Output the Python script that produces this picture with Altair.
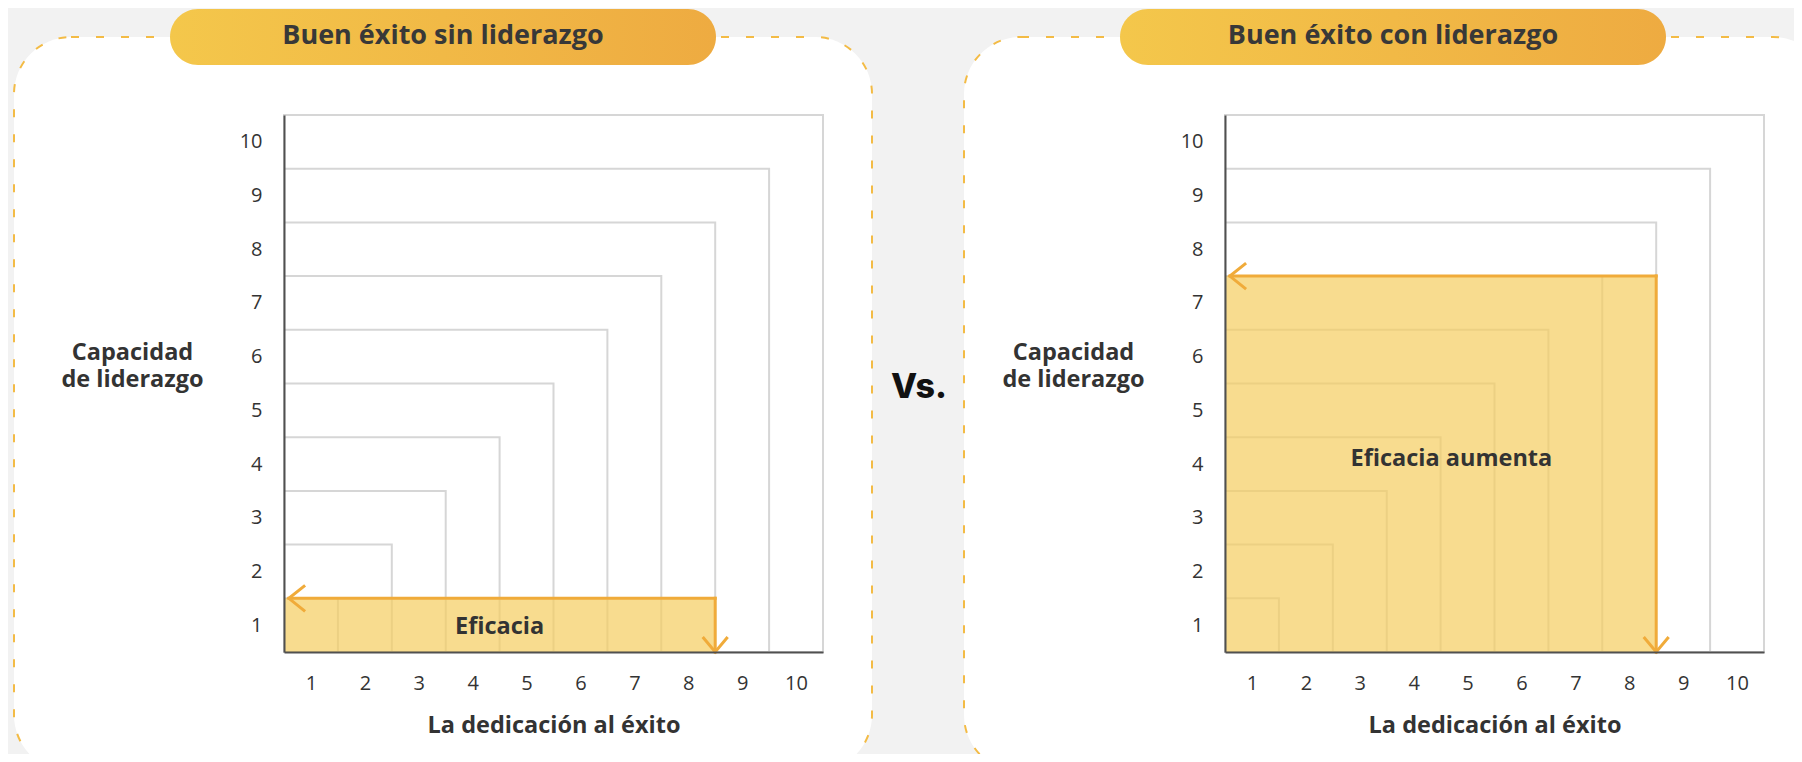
import json
import altair as alt
import pandas as pd

# ---------------- data ----------------
tick_labels = ["1", "2", "3", "4", "5", "6", "7", "8", "9", "10"]
tick_positions = [0.5, 1.5, 2.5, 3.5, 4.5, 5.5, 6.5, 7.5, 8.5, 9.5]
square_sizes = [1, 2, 3, 4, 5, 6, 7, 8, 9, 10]
panel_titles = ["Buen éxito sin liderazgo", "Buen éxito con liderazgo"]
effect_x = [8, 8]          # dedicación al éxito reached
effect_y = [1, 7]          # capacidad de liderazgo reached
effect_labels = ["Eficacia", "Eficacia aumenta"]
effect_label_x = [4.0, 4.2]
effect_label_y = [0.47, 3.6]
x_title = "La dedicación al éxito"
y_title = ["Capacidad", "de liderazgo"]
vs_text = "Vs."

# ---------------- style / layout ----------------
FONT = "Open Sans"
ORANGE = "#f0ab3a"
FILL = "#f5cd5f"
GRID = "#d6d6d6"
TEXT = "#333333"
W, H = 1786, 746
PLOT_TOP, PLOT_BOTTOM = 107, 644
PANEL_X = [[276, 815], [1217, 1756]]
CARD_X = [[6, 864], [956, 1822]]
PILL_X = [[162, 708], [1112, 1658]]

label_expr = json.dumps(tick_labels) + "[floor(datum.value)]"
one = pd.DataFrame({"a": [0]})


def deco_rect(x, x2, y, y2, **kw):
    return alt.Chart(one).mark_rect(**kw).encode(
        x=alt.value(x), x2=alt.value(x2), y=alt.value(y), y2=alt.value(y2)
    )


def decorations(i):
    grad = alt.LinearGradient(
        gradient="linear", x1=0, x2=1, y1=0, y2=0,
        stops=[alt.GradientStop(color="#f4c74b", offset=0),
               alt.GradientStop(color="#eeab41", offset=1)])
    cx, cx2 = CARD_X[i]
    px, px2 = PILL_X[i]
    return [
        deco_rect(cx, cx2, 29, 764, fill="white", stroke="#f3bb45",
                  strokeWidth=2, strokeDash=[8, 17], cornerRadius=57),
        deco_rect(px, px2, 1, 57, fill=grad, cornerRadius=28),
        alt.Chart(pd.DataFrame({"t": [panel_titles[i]]})).mark_text(
            font=FONT, fontSize=27, fontWeight="bold", color="#383838",
            align="center", baseline="middle"
        ).encode(x=alt.value((px + px2) / 2), y=alt.value(28), text="t:N"),
    ]


def panel(i):
    xr = PANEL_X[i]
    xs = alt.Scale(domain=[0, 10], range=xr, nice=False, zero=False)
    ys = alt.Scale(domain=[0, 10], range=[PLOT_BOTTOM, PLOT_TOP], nice=False,
                   zero=False)
    xaxis = alt.Axis(
        orient="bottom", offset=PLOT_BOTTOM - H,
        values=tick_positions, labelExpr=label_expr, ticks=False, tickSize=0,
        grid=False, domainColor="#505050", domainWidth=2,
        labelFont=FONT, labelFontSize=20, labelColor=TEXT, labelPadding=21,
        title=x_title, titleFont=FONT, titleFontSize=23.5,
        titleFontWeight="bold", titleColor=TEXT, titleBaseline="middle",
        titleY=73, zindex=1)
    yaxis = alt.Axis(
        orient="left", offset=-xr[0],
        values=tick_positions, labelExpr=label_expr, ticks=False, tickSize=0,
        grid=False, domainColor="#505050", domainWidth=2,
        labelFont=FONT, labelFontSize=20, labelColor=TEXT, labelPadding=22,
        title=y_title, titleFont=FONT, titleFontSize=23.5,
        titleFontWeight="bold", titleColor=TEXT, titleAngle=0,
        titleAlign="center", titleBaseline="middle", titleLineHeight=27.5,
        titleX=-152, titleY=344, zindex=1)

    def X(f):
        return alt.X(f, scale=xs, axis=xaxis)

    def Y(f):
        return alt.Y(f, scale=ys, axis=yaxis)

    # nested squares
    sq = pd.DataFrame({"lo": [0] * len(square_sizes), "k": square_sizes})
    squares = alt.Chart(sq).mark_rect(
        filled=False, color=GRID, strokeWidth=2
    ).encode(x=X("lo:Q"), x2="k:Q", y=Y("lo:Q"), y2="k:Q")

    # highlighted area
    hl = pd.DataFrame({"lo": [0], "ex": [effect_x[i]], "ey": [effect_y[i]]})
    area = alt.Chart(hl).mark_rect(color=FILL, opacity=0.7).encode(
        x=X("lo:Q"), x2="ex:Q", y=Y("lo:Q"), y2="ey:Q")

    # arrows
    ar = pd.DataFrame({
        "lo": [effect_x[i], effect_x[i]],
        "hi": [0.09, effect_x[i]],
        "ylo": [effect_y[i], effect_y[i]],
        "yhi": [effect_y[i], 0],
    })
    rules = alt.Chart(ar).mark_rule(
        color=ORANGE, strokeWidth=3, strokeCap="square"
    ).encode(x=X("lo:Q"), x2="hi:Q", y=Y("ylo:Q"), y2="yhi:Q")

    heads_df = pd.DataFrame({
        "lo": [0.09, effect_x[i]],
        "ylo": [effect_y[i], 0],
        "shape": ["M1.25,-1L0,0L1.25,1", "M-0.96,-1.15L0,0L0.96,-1.15"],
    })
    heads = alt.Chart(heads_df).mark_point(
        filled=False, color=ORANGE, strokeWidth=3, opacity=1, size=676
    ).encode(x=X("lo:Q"), y=Y("ylo:Q"),
             shape=alt.Shape("shape:N", scale=None))

    lab = pd.DataFrame({"t": [effect_labels[i]], "lo": [effect_label_x[i]],
                        "ylo": [effect_label_y[i]]})
    label = alt.Chart(lab).mark_text(
        font=FONT, fontSize=23.5, fontWeight="bold", color=TEXT,
        align="center", baseline="middle"
    ).encode(x=X("lo:Q"), y=Y("ylo:Q"), text="t:N")

    return alt.layer(squares, area, rules, heads, label)


vs = alt.Chart(pd.DataFrame({"t": [vs_text]})).mark_text(
    font="Inter", fontSize=34, fontWeight=800, color="#111111",
    align="center", baseline="middle"
).encode(x=alt.value(911), y=alt.value(380), text="t:N")

chart = alt.layer(
    *decorations(0), *decorations(1), vs, panel(0), panel(1)
).resolve_scale(x="independent", y="independent").properties(
    width=W, height=H, padding=0, background="#f2f2f2",
    autosize=alt.AutoSizeParams(type="none"),
).configure_view(strokeWidth=0)

chart.save("out.html", embed_options={"renderer": "svg", "actions": False})
